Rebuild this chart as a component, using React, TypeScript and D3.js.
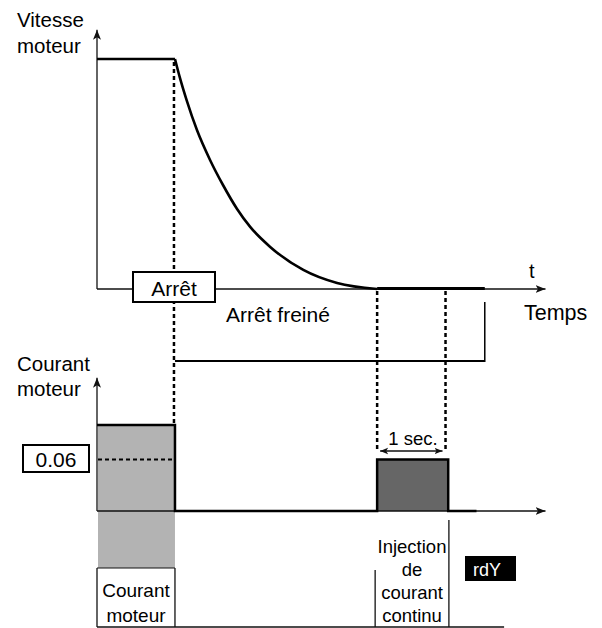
import React from "react";
import * as d3 from "d3";

// Time axis in seconds, speed normalised to nominal speed, current normalised to motor current.
const timeDomain = [0, 6.5];
const tStop = 1.13; // stop command
const tZero = 4.06; // speed reaches zero
const tDcEnd = 5.08; // end of DC injection (1 s)
const tReady = 5.62; // drive ready
const tBottomEnd = 5.9;

const speedPlateau: [number, number][] = [
  [0, 1],
  [1.13, 1],
];

const speedDecay: [number, number][] = [
  [1.13, 1],
  [1.2, 0.92],
  [1.3, 0.82],
  [1.45, 0.69],
  [1.64, 0.56],
  [1.83, 0.45],
  [2.03, 0.348],
  [2.22, 0.27],
  [2.51, 0.183],
  [2.99, 0.083],
  [3.48, 0.026],
  [4.06, 0],
];

const motorCurrent = 1;
const dcCurrent = 0.6;
const thresholdLabel = "0.06";

const injectionLines = ["Injection", "de", "courant", "continu"];

const FONT = "'Liberation Sans', Arial, Helvetica, sans-serif";

export default function App() {
  const x = d3.scaleLinear().domain(timeDomain).range([97, 545.5]);
  const yS = d3.scaleLinear().domain([0, 1]).range([289, 59]);
  const yC = d3.scaleLinear().domain([0, 1]).range([511, 425]);

  const lineGen = d3
    .line<[number, number]>()
    .x((d) => x(d[0]))
    .y((d) => yS(d[1]));
  const plateauPath = lineGen(speedPlateau);
  const decayPath = lineGen.curve(d3.curveMonotoneX)(speedDecay);

  const x0 = x(0);
  const xStop = x(tStop);
  const xZero = x(tZero);
  const xDcEnd = x(tDcEnd);
  const xReady = x(tReady);
  const xEnd = x(timeDomain[1]);

  const dash = "4,3";

  return (
    <svg width={602} height={628} style={{ position: "absolute", left: 0, top: 0 }} fontFamily={FONT}>
      <defs>
        <marker id="arr" viewBox="0 0 10 10" refX="10" refY="5" markerWidth="10" markerHeight="10" markerUnits="userSpaceOnUse" orient="auto">
          <path d="M0,1 L10,5 L0,9 L2.5,5 Z" fill="#111" />
        </marker>
        <marker id="arrS" viewBox="0 0 10 10" refX="10" refY="5" markerWidth="8" markerHeight="8" markerUnits="userSpaceOnUse" orient="auto-start-reverse">
          <path d="M0,1 L10,5 L0,9 L2.5,5 Z" fill="#111" />
        </marker>
      </defs>
      <rect width={602} height={628} fill="#fff" />

      {/* speed graph */}
      <line x1={x0} y1={yS(0)} x2={x0} y2={yS(1.127)} stroke="#111" strokeWidth={1.3} markerEnd="url(#arr)" />
      <line x1={x0} y1={yS(0)} x2={xEnd} y2={yS(0)} stroke="#111" strokeWidth={1.3} markerEnd="url(#arr)" />
      <path d={plateauPath || ""} fill="none" stroke="#000" strokeWidth={2.6} />
      <path d={decayPath || ""} fill="none" stroke="#000" strokeWidth={2.6} />
      <line x1={xZero} y1={yS(0) - 0.5} x2={xReady} y2={yS(0) - 0.5} stroke="#000" strokeWidth={3} />

      {/* event markers */}
      <line x1={xStop - 1} y1={yS(1) + 3} x2={xStop - 1} y2={yC(dcCurrent)} stroke="#000" strokeWidth={2.5} strokeDasharray={dash} />
      <line x1={xZero} y1={yS(0) + 2} x2={xZero} y2={452} stroke="#000" strokeWidth={2.5} strokeDasharray={dash} />
      <line x1={xDcEnd - 2} y1={yS(0) + 2} x2={xDcEnd - 2} y2={452} stroke="#000" strokeWidth={2.5} strokeDasharray={dash} />

      {/* braked stop interval */}
      <line x1={xStop} y1={361} x2={xReady} y2={361} stroke="#000" strokeWidth={2.2} />
      <line x1={xReady} y1={302} x2={xReady} y2={362} stroke="#000" strokeWidth={1.5} />

      <rect x={133} y={272} width={82} height={30} fill="#fff" stroke="#000" strokeWidth={2} />
      <text x={174} y={296} fontSize={21} textAnchor="middle">Arrêt</text>
      <text x={226} y={322} fontSize={21}>Arrêt freiné</text>
      <text x={529} y={278} fontSize={20}>t</text>
      <text x={524} y={320} fontSize={21.5}>Temps</text>
      <text x={17} y={27} fontSize={20.5}>Vitesse</text>
      <text x={17} y={53} fontSize={20.5}>moteur</text>

      {/* current graph */}
      <rect x={x0 + 1} y={yC(motorCurrent)} width={xStop - x0 - 1} height={yC(0) - yC(motorCurrent)} fill="#b3b3b3" />
      <rect x={x0 + 1} y={yC(0)} width={xStop - x0 - 1} height={568 - yC(0)} fill="#b3b3b3" />
      <rect x={xZero} y={yC(dcCurrent)} width={x(5.09) - xZero} height={yC(0) - yC(dcCurrent)} fill="#666" />
      <line x1={x0} y1={yC(0)} x2={x0} y2={yC(1.55)} stroke="#111" strokeWidth={1.3} markerEnd="url(#arr)" />
      <line x1={x0} y1={yC(0)} x2={xEnd} y2={yC(0)} stroke="#111" strokeWidth={1.5} markerEnd="url(#arr)" />
      <line x1={x0 + 1} y1={yC(dcCurrent)} x2={xStop} y2={yC(dcCurrent)} stroke="#000" strokeWidth={2} strokeDasharray={dash} />
      <path
        d={d3.line()([
          [x0, yC(motorCurrent)],
          [xStop, yC(motorCurrent)],
          [xStop, yC(0)],
          [xZero, yC(0)],
          [xZero, yC(dcCurrent)],
          [x(5.09), yC(dcCurrent)],
          [x(5.09), yC(0)],
          [x(5.5), yC(0)],
        ]) || ""}
        fill="none"
        stroke="#000"
        strokeWidth={2.5}
      />

      <rect x={23} y={445} width={66} height={27} fill="#fff" stroke="#000" strokeWidth={2} />
      <text x={56} y={467} fontSize={21} textAnchor="middle">{thresholdLabel}</text>
      <text x={17} y={371} fontSize={20.5}>Courant</text>
      <text x={17} y={396} fontSize={20.5}>moteur</text>

      {/* 1 s DC injection */}
      <line x1={xZero + 3} y1={451} x2={xDcEnd - 5} y2={451} stroke="#111" strokeWidth={1.3} markerStart="url(#arrS)" markerEnd="url(#arrS)" />
      <text x={413} y={445} fontSize={18.5} textAnchor="middle">1 sec.</text>

      {/* phase bar */}
      <line x1={x0} y1={568} x2={x0} y2={627} stroke="#111" strokeWidth={1.3} />
      <line x1={xStop} y1={568} x2={xStop} y2={627} stroke="#111" strokeWidth={1.3} />
      <line x1={x0} y1={568} x2={xStop} y2={568} stroke="#111" strokeWidth={1} />
      <line x1={x0} y1={627} x2={x(tBottomEnd)} y2={627} stroke="#111" strokeWidth={1.5} />
      <line x1={xZero - 2} y1={570} x2={xZero - 2} y2={627} stroke="#111" strokeWidth={1.3} />
      <line x1={x(5.1)} y1={520} x2={x(5.1)} y2={627} stroke="#111" strokeWidth={1.3} />
      <text x={136} y={597} fontSize={19} textAnchor="middle">Courant</text>
      <text x={136} y={622} fontSize={19} textAnchor="middle">moteur</text>
      {injectionLines.map((s, i) => (
        <text key={s} x={412} y={553 + i * 23} fontSize={18.5} textAnchor="middle">{s}</text>
      ))}
      <rect x={465} y={556} width={51} height={25} fill="#000" />
      <text x={487} y={576} fontSize={18} textAnchor="middle" fill="#fff">rdY</text>
    </svg>
  );
}
